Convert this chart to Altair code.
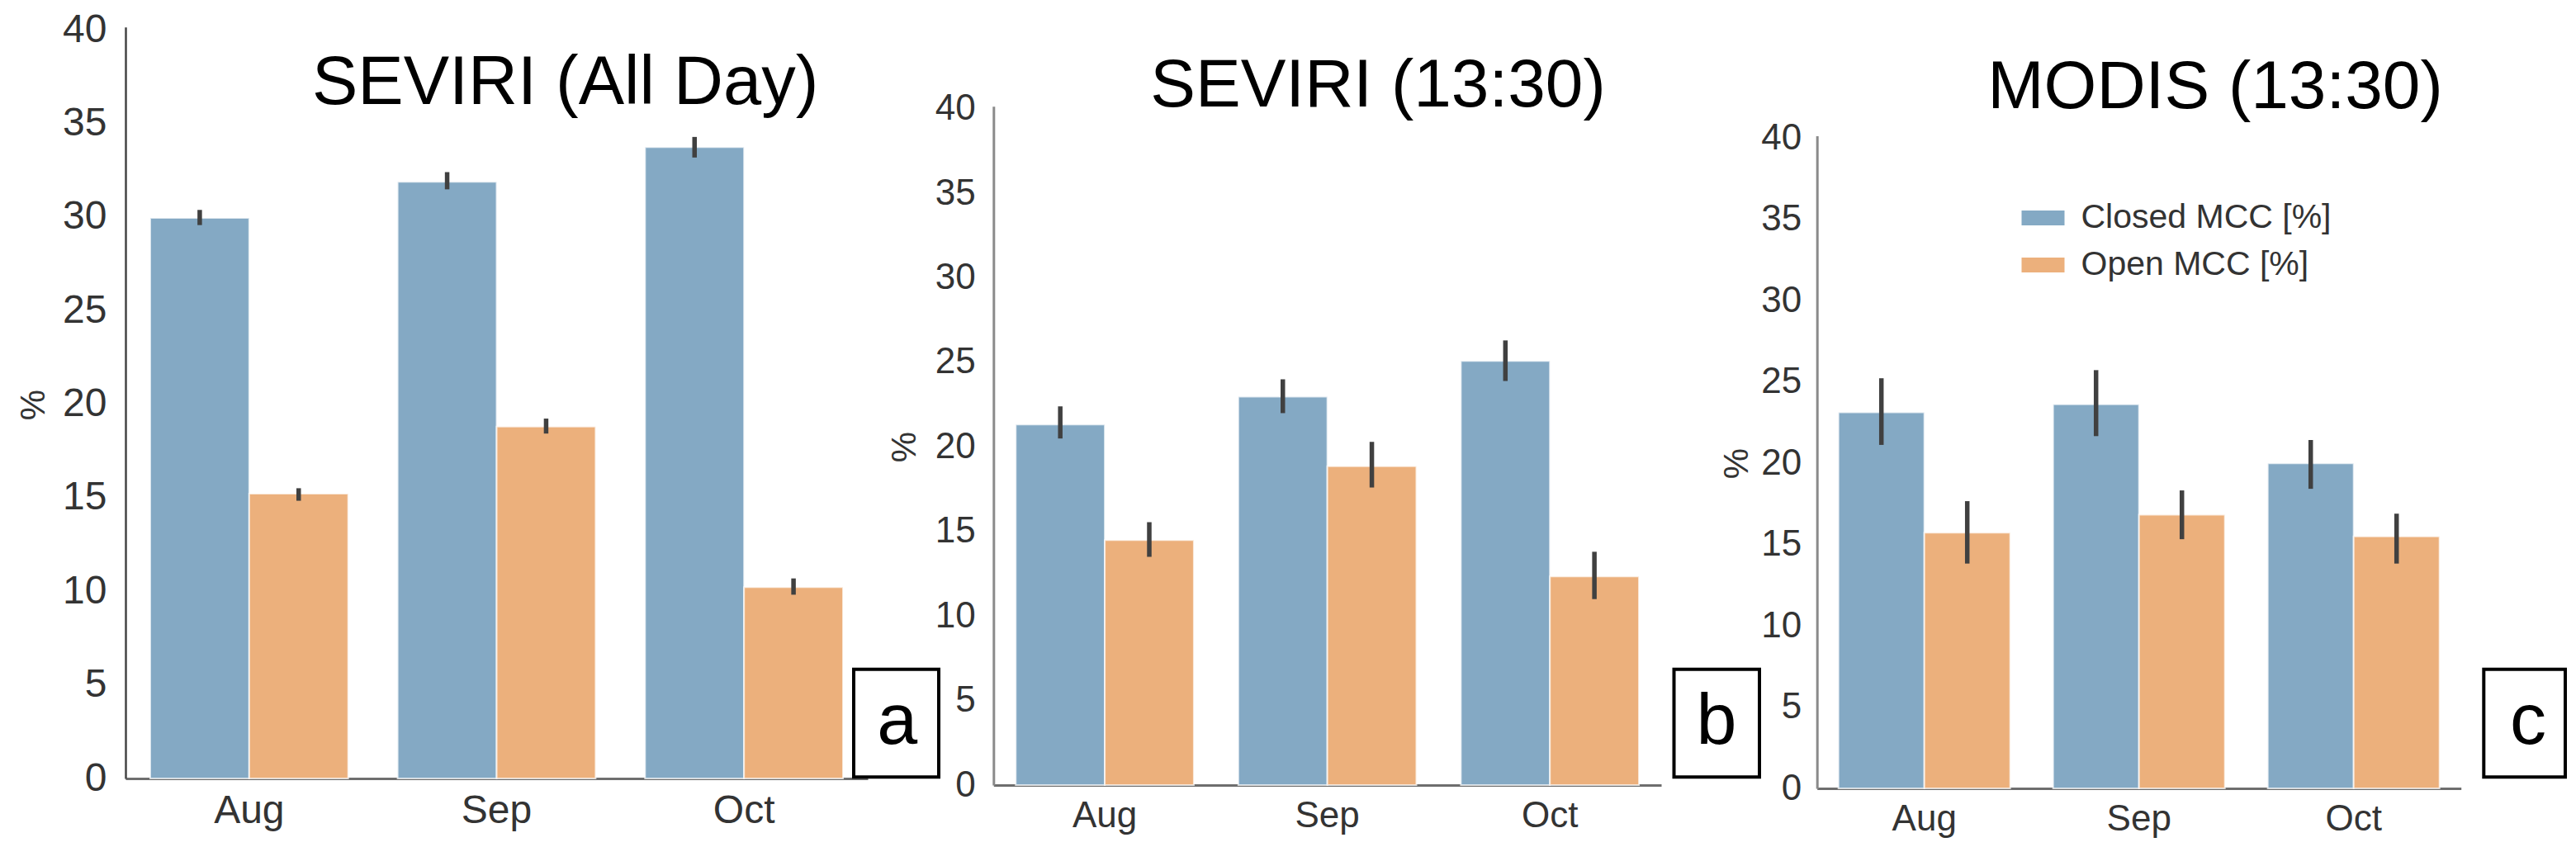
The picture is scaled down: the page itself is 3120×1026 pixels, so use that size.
import altair as alt
import pandas as pd

months = ["Aug", "Sep", "Oct"]
series = ["Closed MCC [%]", "Open MCC [%]"]
panel_titles = ["SEVIRI (All Day)", "SEVIRI (13:30)", "MODIS (13:30)"]
panel_letters = ["a", "b", "c"]
y_ticks = [0, 5, 10, 15, 20, 25, 30, 35, 40]

# Panel a: SEVIRI (All Day)
a_closed = [29.95, 31.88, 33.73]
a_closed_lo = [29.57, 31.48, 33.18]
a_closed_hi = [30.38, 32.40, 34.28]
a_open = [15.22, 18.80, 10.22]
a_open_lo = [14.84, 18.43, 9.82]
a_open_hi = [15.51, 19.23, 10.69]

# Panel b: SEVIRI (13:30)
b_closed = [21.33, 22.97, 25.09]
b_closed_lo = [20.50, 22.00, 23.90]
b_closed_hi = [22.40, 24.00, 26.30]
b_open = [14.49, 18.86, 12.34]
b_open_lo = [13.50, 17.60, 11.00]
b_open_hi = [15.55, 20.30, 13.80]

# Panel c: MODIS (13:30)
c_closed = [23.13, 23.63, 20.00]
c_closed_lo = [21.13, 21.67, 18.43]
c_closed_hi = [25.23, 25.73, 21.43]
c_open = [15.73, 16.83, 15.50]
c_open_lo = [13.83, 15.33, 13.83]
c_open_hi = [17.67, 18.33, 16.90]

BLUE = "#84a9c4"
ORANGE = "#ecb07c"
FONT = "Liberation Sans"
W, H = 3104, 1010


def make_df(closed, closed_lo, closed_hi, opn, opn_lo, opn_hi):
    rows = []
    for i, m in enumerate(months):
        rows.append({"month": m, "series": series[0], "value": closed[i], "lo": closed_lo[i], "hi": closed_hi[i]})
        rows.append({"month": m, "series": series[1], "value": opn[i], "lo": opn_lo[i], "hi": opn_hi[i]})
    return pd.DataFrame(rows)


color_legend = alt.Legend(
    orient="none", legendX=2440.5, legendY=230, title=None, direction="vertical",
    symbolType="M-1,-0.346H1V0.346H-1Z", symbolSize=2704, symbolStrokeWidth=0,
    symbolOpacity=1, labelFont=FONT, labelFontSize=41, labelColor="#333333",
    labelOffset=20, labelLimit=0, rowPadding=11, padding=0,
)


def panel(df, xr, yr, xoff, yoff, lab_fs, ylab_pad, tx, ty, ydom_color, ydom_w):
    xscale = alt.Scale(domain=months, range=xr, paddingInner=0.2, paddingOuter=0.1)
    yscale = alt.Scale(domain=[0, 40.15], range=yr, nice=False)
    xaxis = alt.Axis(orient="bottom", offset=xoff, title=None, ticks=False, labelPadding=15,
                     labelFontSize=lab_fs, labelFont=FONT, labelColor="#333333", labelAngle=0,
                     domainColor="#6e6e6e", domainWidth=3, grid=False)
    yaxis = alt.Axis(orient="left", offset=yoff, title="%", values=y_ticks, format="d", ticks=False,
                     labelPadding=ylab_pad, labelFontSize=lab_fs, labelFont=FONT, labelColor="#333333",
                     domainColor=ydom_color, domainWidth=ydom_w, grid=False,
                     titleFont=FONT, titleFontSize=42, titleFontWeight="normal", titleColor="#333333",
                     titleX=tx, titleY=ty, titleAngle=270, titleAlign="center", titleBaseline="middle")
    xoffset = alt.XOffset("series:N", sort=series, scale=alt.Scale(domain=series, paddingInner=0, paddingOuter=0))
    bars = alt.Chart(df).mark_bar(stroke="white", strokeWidth=2, strokeOpacity=0.7).encode(
        x=alt.X("month:N", sort=months, scale=xscale, axis=xaxis),
        xOffset=xoffset,
        y=alt.Y("value:Q", scale=yscale, axis=yaxis),
        color=alt.Color("series:N", sort=series, scale=alt.Scale(domain=series, range=[BLUE, ORANGE]),
                        legend=color_legend),
    )
    errs = alt.Chart(df).mark_rule(color="#404040", strokeWidth=5.5).encode(
        x=alt.X("month:N", sort=months, scale=xscale, axis=xaxis),
        xOffset=xoffset,
        y=alt.Y("lo:Q", scale=yscale, axis=yaxis),
        y2="hi:Q",
    )
    return alt.layer(bars, errs)


pa = panel(make_df(a_closed, a_closed_lo, a_closed_hi, a_open, a_open_lo, a_open_hi),
           [144, 1043], [935, 24.8], 935 - H, -144, 48, 23, -112, 482, "#444444", 2.5)
pb = panel(make_df(b_closed, b_closed_lo, b_closed_hi, b_open, b_open_lo, b_open_hi),
           [1195.3, 2004], [943, 120.7], 943 - H, -1195.3, 44, 22, -108, 533, "#8a8a8a", 3)
pc = panel(make_df(c_closed, c_closed_lo, c_closed_hi, c_open, c_open_lo, c_open_hi),
           [2192.7, 2972.7], [947, 156.4], 947 - H, -2192.7, 44, 19, -97, 553, "#8a8a8a", 3)


def text_layer(txt, x, y, fs):
    return alt.Chart(pd.DataFrame({"t": [txt]})).mark_text(
        font=FONT, fontSize=fs, align="center", baseline="alphabetic", color="black"
    ).encode(text="t:N", x=alt.value(x), y=alt.value(y))


def box_layer(x1, x2, y1, y2):
    return alt.Chart(pd.DataFrame({"t": [0]})).mark_rect(
        fill="white", stroke="black", strokeWidth=4
    ).encode(x=alt.value(x1), x2=alt.value(x2), y=alt.value(y1), y2=alt.value(y2))


annotations = [
    text_layer(panel_titles[0], 676.6, 117.6, 83),
    text_layer(panel_titles[1], 1661, 121, 82),
    text_layer(panel_titles[2], 2675, 122.8, 82),
    box_layer(1026, 1129, 802.7, 933.3),
    box_layer(2019.5, 2123, 802.7, 933.3),
    box_layer(3000.3, 3099, 802.7, 933.3),
    text_layer(panel_letters[0], 1078.7, 892.5, 88),
    text_layer(panel_letters[1], 2071, 893, 88),
    text_layer(panel_letters[2], 3054, 892.5, 88),
]

chart = alt.layer(pa, pb, pc, *annotations).resolve_scale(
    x="independent", y="independent", xOffset="independent"
).resolve_axis(
    x="independent", y="independent"
).properties(
    width=W, height=H, autosize=alt.AutoSizeParams(type="none"), padding=0
).configure_view(stroke=None)

chart.save("out.html", embed_options={"renderer": "svg", "actions": False})
